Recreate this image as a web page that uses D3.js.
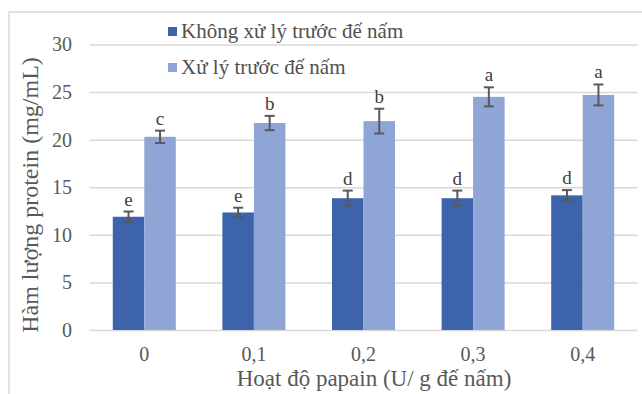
<!DOCTYPE html>
<html>
<head>
<meta charset="utf-8">
<script src="https://cdn.jsdelivr.net/npm/d3@7"></script>
<style>
	body { margin: 0; background: #fff; }
	text { font-family: "Liberation Serif", "Times New Roman", serif; }
</style>
</head>
<body>
<script>
	// data
	var categories = ["0", "0,1", "0,2", "0,3", "0,4"];
	var seriesNames = ["Không xử lý trước đế nấm", "Xử lý trước đế nấm"];
	var untreated = [11.9, 12.35, 13.85, 13.85, 14.15];
	var untreatedErr = [0.55, 0.5, 0.8, 0.8, 0.55];
	var untreatedSig = ["e", "e", "d", "d", "d"];
	var treated = [20.3, 21.75, 21.95, 24.5, 24.7];
	var treatedErr = [0.65, 0.75, 1.3, 1.0, 1.1];
	var treatedSig = ["c", "b", "b", "a", "a"];
	var yTicks = [0, 5, 10, 15, 20, 25, 30];

	var colors = ["#3d64ab", "#8fa5d6"];
	var width = 642, height = 394;
	var plot = { left: 89.5, right: 637.5, top: 44.5, bottom: 330 };

	var svg = d3.select("body").append("svg")
		.attr("width", width)
		.attr("height", height);

	// caption from the page above, almost entirely cut off
	var cap = svg.append("text")
		.attr("y", -7)
		.attr("font-weight", "bold")
		.attr("font-size", 33)
		.attr("fill", "#000")
		.text("Hình 3. Ảnh hưởng của hoạt độ papain đến hàm lượng protein");
	var tmp = svg.append("text").attr("font-weight", "bold").attr("font-size", 33)
		.text("Hình 3. Ảnh hưởng của ho");
	var pre = tmp.node().getComputedTextLength();
	tmp.text("ạ");
	var aw = tmp.node().getComputedTextLength();
	tmp.remove();
	cap.attr("x", 155 - pre - aw / 2);

	// frame of the chart box
	svg.append("path")
		.attr("d", "M9," + height + "V12H" + width)
		.attr("fill", "none")
		.attr("stroke", "#d9d9d9")
		.attr("stroke-width", 1.5);

	// scales
	var x0 = d3.scaleBand()
		.domain(categories)
		.range([plot.left, plot.right])
		.paddingInner(0.425)
		.paddingOuter(0.2125);
	var x1 = d3.scaleBand()
		.domain([0, 1])
		.range([0, x0.bandwidth()]);
	var y = d3.scaleLinear()
		.domain([0, 30])
		.range([plot.bottom, plot.top]);

	// y axis + gridlines
	var yAxis = d3.axisLeft(y)
		.tickValues(yTicks)
		.tickSize(-(plot.right - plot.left))
		.tickPadding(17.5);
	var gy = svg.append("g")
		.attr("transform", "translate(" + plot.left + ",0)")
		.call(yAxis);
	gy.select(".domain").remove();
	gy.selectAll("line").attr("stroke", "#d9d9d9").attr("stroke-width", 1.5);
	gy.selectAll("text")
		.attr("fill", "#595959")
		.attr("font-size", 20)
		.style("font-family", "Liberation Serif");

	// x axis
	var gx = svg.append("g")
		.attr("transform", "translate(0," + plot.bottom + ")")
		.call(d3.axisBottom(x0).tickSize(0));
	gx.select(".domain").remove();
	gx.selectAll("text")
		.attr("y", 31)
		.attr("dy", 0)
		.attr("fill", "#595959")
		.attr("font-size", 20)
		.style("font-family", "Liberation Serif");

	// bars
	var series = [
		{ vals: untreated, err: untreatedErr, sig: untreatedSig },
		{ vals: treated, err: treatedErr, sig: treatedSig }
	];
	series.forEach(function(s, i) {
		var g = svg.append("g").attr("fill", colors[i]);
		var rows = categories.map(function(c, j) {
			return { c: c, v: s.vals[j], e: s.err[j], l: s.sig[j] };
		});
		g.selectAll("rect")
			.data(rows)
			.enter()
			.append("rect")
			.attr("x", d => x0(d.c) + x1(i))
			.attr("y", d => y(d.v))
			.attr("width", x1.bandwidth())
			.attr("height", d => y(0) - y(d.v));

		var cx = d => x0(d.c) + x1(i) + x1.bandwidth() / 2;
		var eb = svg.append("g")
			.attr("stroke", "#595959")
			.attr("stroke-width", 2);
		eb.selectAll(".stem").data(rows).enter().append("line")
			.attr("x1", cx).attr("x2", cx)
			.attr("y1", d => y(d.v + d.e)).attr("y2", d => y(d.v - d.e));
		eb.selectAll(".top").data(rows).enter().append("line")
			.attr("x1", d => cx(d) - 5).attr("x2", d => cx(d) + 5)
			.attr("y1", d => y(d.v + d.e)).attr("y2", d => y(d.v + d.e));
		eb.selectAll(".bot").data(rows).enter().append("line")
			.attr("x1", d => cx(d) - 5).attr("x2", d => cx(d) + 5)
			.attr("y1", d => y(d.v - d.e)).attr("y2", d => y(d.v - d.e));

		svg.append("g").selectAll("text")
			.data(rows)
			.enter()
			.append("text")
			.attr("x", cx)
			.attr("y", d => y(d.v + d.e) - 6)
			.attr("text-anchor", "middle")
			.attr("font-size", 19)
			.attr("fill", "#404040")
			.text(d => d.l);
	});

	// legend
	var leg = svg.append("g");
	seriesNames.forEach(function(n, i) {
		leg.append("rect")
			.attr("x", 168)
			.attr("y", 27 + i * 36)
			.attr("width", 9)
			.attr("height", 9)
			.attr("fill", colors[i]);
		leg.append("text")
			.attr("x", 181)
			.attr("y", 37.5 + i * 36)
			.attr("font-size", 21)
			.attr("fill", "#505050")
			.text(n);
	});

	// axis titles
	svg.append("text")
		.attr("transform", "translate(38,195) rotate(-90)")
		.attr("text-anchor", "middle")
		.attr("font-size", 24)
		.attr("fill", "#595959")
		.text("Hàm lượng protein (mg/mL)");
	svg.append("text")
		.attr("x", 374)
		.attr("y", 386)
		.attr("text-anchor", "middle")
		.attr("font-size", 23)
		.attr("fill", "#595959")
		.text("Hoạt độ papain (U/ g đế nấm)");
</script>
</body>
</html>
